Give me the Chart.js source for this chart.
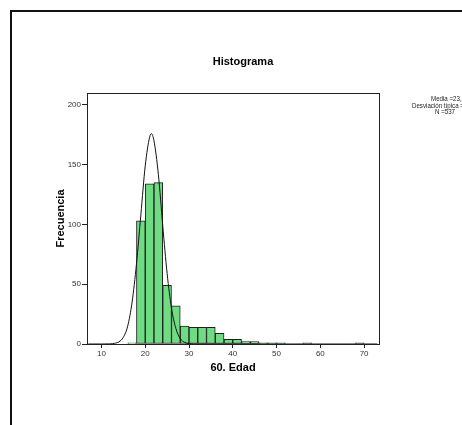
<!DOCTYPE html>
<html>
<head>
<meta charset="utf-8">
<script src="https://cdn.jsdelivr.net/npm/chart.js@4.4.1/dist/chart.umd.min.js"></script>
<style>
    html, body { margin: 0; padding: 0; background: #fff; }
    #wrap { width: 462px; height: 425px; position: relative; }
</style>
</head>
<body>
<div id="wrap"><canvas id="hist"></canvas></div>
<script>
// bin centres (width 2) and counts
const binCenters = [17, 19, 21, 23, 25, 27, 29, 31, 33, 35, 37, 39, 41, 43, 45, 47, 49, 51, 53, 55, 57, 59, 61, 63, 65, 67, 69];
const counts = [1, 103, 134, 135, 49, 32, 15, 14, 14, 14, 9, 4, 4, 2, 2, 1, 1, 1, 0, 0, 1, 0, 0, 0, 0, 0, 1];

// normal curve
const curveX = [7, 10, 12, 13, 14, 15, 16, 17, 18, 19, 20, 21, 21.4, 22, 23, 24, 25, 26, 27, 28, 29, 30, 32, 73];
const curveY = [0, 0, 0.1, 0.6, 1.8, 5.6, 15, 35, 67, 108, 149, 173, 176, 170, 142, 99, 59, 30, 13, 4.5, 1.4, 0.3, 0, 0];

const xTicks = [10, 20, 30, 40, 50, 60, 70];
const yTicks = [0, 50, 100, 150, 200];

const statsLines = ['Media =23,56', 'Desviación típica =4,929', 'N =537'];

const textPlugin = {
    id: 'spssText',
    beforeDraw(chart) {
        const c = chart.ctx;
        c.save();
        c.fillStyle = '#fff';
        c.fillRect(0, 0, chart.width, chart.height);
        c.strokeStyle = '#111';
        c.lineWidth = 2;
        c.strokeRect(11, 11, chart.width + 10, chart.height + 10);
        c.restore();
    },
    afterDraw(chart) {
        const c = chart.ctx;
        const a = chart.chartArea;
        c.save();
        // box round the plot
        c.strokeStyle = '#222';
        c.lineWidth = 1;
        c.strokeRect(Math.round(a.left) + 0.5, Math.round(a.top) + 0.5, Math.round(a.right - a.left), Math.round(a.bottom - a.top));

        c.fillStyle = '#000';
        c.font = 'bold 11px "Liberation Sans", Arial, sans-serif';
        c.textAlign = 'center';
        c.textBaseline = 'middle';
        c.fillText('Histograma', 243, 62);

        // stats block, narrow like the original
        c.font = '8px "Liberation Sans", Arial, sans-serif';
        c.fillStyle = '#222';
        c.textAlign = 'left';
        const sx = 0.77;
        c.scale(sx, 1);
        c.fillText(statsLines[0], 431 / sx, 99);
        c.fillText(statsLines[1], 412 / sx, 105.5);
        c.fillText(statsLines[2], 435 / sx, 112);
        c.restore();
    }
};

const ctx = document.getElementById('hist').getContext('2d');
new Chart(ctx, {
    data: {
        datasets: [
            {
                type: 'line',
                label: 'Normal',
                data: curveX.map((x, i) => ({ x: x, y: curveY[i] })),
                borderColor: '#111',
                borderWidth: 1,
                pointRadius: 0,
                cubicInterpolationMode: 'monotone',
                fill: false
            },
            {
                type: 'bar',
                label: 'Frecuencia',
                data: binCenters.map((x, i) => ({ x: x, y: counts[i] })),
                backgroundColor: '#6fdb82',
                borderColor: '#1e1e1e',
                borderWidth: 1,
                borderSkipped: false,
                barPercentage: 1,
                categoryPercentage: 1
            }
        ]
    },
    options: {
        responsive: true,
        maintainAspectRatio: false,
        animation: false,
        layout: {
            padding: { left: 50, top: 93, right: 83, bottom: 46 }
        },
        plugins: {
            legend: { display: false },
            tooltip: { enabled: false }
        },
        scales: {
            x: {
                type: 'linear',
                min: 6.7,
                max: 73.4,
                offset: false,
                afterBuildTicks: s => { s.ticks = xTicks.map(v => ({ value: v })); },
                afterFit: s => { s.height = 35; },
                grid: {
                    offset: false,
                    drawOnChartArea: false,
                    drawTicks: true,
                    tickLength: 4,
                    color: '#222'
                },
                border: { color: '#222', width: 1 },
                ticks: {
                    color: '#333',
                    padding: 1,
                    maxRotation: 0,
                    font: { family: '"Liberation Sans", Arial, sans-serif', size: 8 }
                },
                title: {
                    display: true,
                    text: '60. Edad',
                    color: '#000',
                    padding: { top: 0, bottom: 4 },
                    font: { family: '"Liberation Sans", Arial, sans-serif', size: 11, weight: 'bold' }
                }
            },
            y: {
                min: 0,
                max: 210,
                afterBuildTicks: s => { s.ticks = yTicks.map(v => ({ value: v })); },
                afterFit: s => { s.width = 37; },
                grid: {
                    drawOnChartArea: false,
                    drawTicks: true,
                    tickLength: 5,
                    color: '#222'
                },
                border: { color: '#222', width: 1 },
                ticks: {
                    color: '#333',
                    padding: 1,
                    font: { family: '"Liberation Sans", Arial, sans-serif', size: 8 }
                },
                title: {
                    display: true,
                    text: 'Frecuencia',
                    color: '#000',
                    padding: { top: 4, bottom: 0 },
                    font: { family: '"Liberation Sans", Arial, sans-serif', size: 11, weight: 'bold' }
                }
            }
        }
    },
    plugins: [textPlugin]
});
</script>
</body>
</html>
